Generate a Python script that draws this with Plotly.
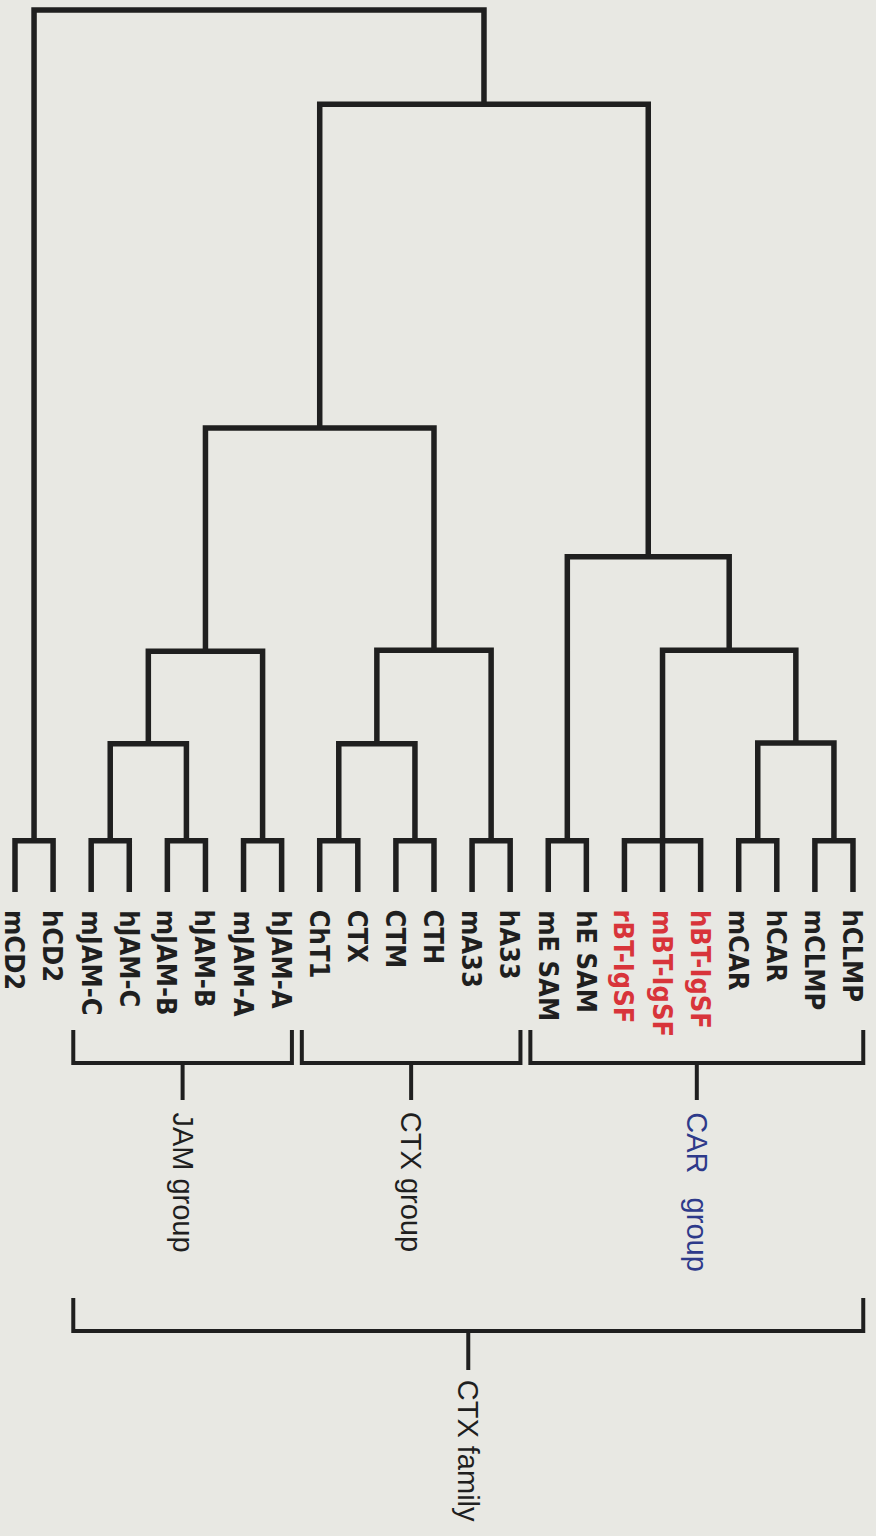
import plotly.graph_objects as go

# ---------------- data ----------------
leaves = ["mCD2", "hCD2", "mJAM-C", "hJAM-C", "mJAM-B", "hJAM-B", "mJAM-A", "hJAM-A",
          "ChT1", "CTX", "CTM", "CTH", "mA33", "hA33", "mE SAM", "hE SAM",
          "rBT-IgSF", "mBT-IgSF", "hBT-IgSF", "mCAR", "hCAR", "mCLMP", "hCLMP"]
highlight = ["rBT-IgSF", "mBT-IgSF", "hBT-IgSF"]

merge_ids = ["p_cd2", "p_jamc", "p_jamb", "p_jama", "p_ctx", "p_ctm", "p_a33", "p_esam",
             "p_bt", "p_car", "p_clmp",
             "jam_cb", "jam", "ctx_sub", "ctx", "car_clmp", "car_bt", "car",
             "jam_ctx", "family", "root"]
merge_children = [
    ["mCD2", "hCD2"], ["mJAM-C", "hJAM-C"], ["mJAM-B", "hJAM-B"], ["mJAM-A", "hJAM-A"],
    ["ChT1", "CTX"], ["CTM", "CTH"], ["mA33", "hA33"], ["mE SAM", "hE SAM"],
    ["rBT-IgSF", "mBT-IgSF", "hBT-IgSF"], ["mCAR", "hCAR"], ["mCLMP", "hCLMP"],
    ["p_jamc", "p_jamb"], ["jam_cb", "p_jama"],
    ["p_ctx", "p_ctm"], ["ctx_sub", "p_a33"],
    ["p_car", "p_clmp"], ["p_bt", "car_clmp"], ["p_esam", "car_bt"],
    ["jam", "ctx"], ["jam_ctx", "car"], ["p_cd2", "family"],
]
merge_heights = [5.8, 5.8, 5.8, 5.8, 5.8, 5.8, 5.8, 5.8, 5.8, 5.8, 5.8,
                 16.8, 27.3, 16.8, 27.4, 16.9, 27.4, 38.0, 52.6, 89.3, 100.0]

group_names = ["JAM group", "CTX group", "CAR\u00a0\u00a0\u00a0group"]
group_first = ["mJAM-C", "ChT1", "mE SAM"]
group_last = ["hJAM-A", "hA33", "hCLMP"]
family_name = "CTX family"
family_first = "mJAM-C"
family_last = "hCLMP"

# ---------------- layout constants ----------------
W, H = 876, 1536
BG = "#e8e8e3"
INK = "#1f1f1f"
RED = "#d8343a"
BLUE = "#2e3a8a"
PX0, PXSTEP = 15.0, 38.09      # pixel x of first leaf, spacing
PY0, PYSCALE = 892.0, 8.82     # pixel y of distance 0, pixels per unit

def d_of(py):
    return (PY0 - py) / PYSCALE

xr = [(0 - PX0) / PXSTEP, (W - PX0) / PXSTEP]
yr = [d_of(H), d_of(0)]

pos = {name: float(i) for i, name in enumerate(leaves)}
hgt = {name: 0.0 for name in leaves}
for nid, ch, h in zip(merge_ids, merge_children, merge_heights):
    pos[nid] = sum(pos[c] for c in ch) / len(ch)
    hgt[nid] = h

fig = go.Figure()

xs, ys = [], []
for nid, ch, h in zip(merge_ids, merge_children, merge_heights):
    xc = [pos[c] for c in ch]
    hc = [hgt[c] for c in ch]
    first, last = 0, len(ch) - 1
    xs += [xc[first], xc[first], xc[last], xc[last], None]
    ys += [hc[first], h, h, hc[last], None]
    for k in range(1, len(ch) - 1):
        xs += [xc[k], xc[k], None]
        ys += [hc[k], h, None]

fig.add_trace(go.Scatter(x=xs, y=ys, mode="lines",
                         line=dict(color=INK, width=5.5), hoverinfo="skip",
                         showlegend=False))

# leaf labels
for i, name in enumerate(leaves):
    fig.add_annotation(x=i, y=d_of(908), xref="x", yref="y", text=name,
                       textangle=90, showarrow=False, xanchor="center", yanchor="top",
                       font=dict(family="Liberation Sans Narrow, Arial Narrow, DejaVu Sans Condensed, Liberation Sans, Arial",
                                 size=27, weight="bold",
                                 color=RED if name in highlight else INK))

def bracket(i0, i1, top, mid, stem, label, label_top, color):
    xl = pos[i0] - 0.47
    xrr = pos[i1] + 0.27
    xm = (xl + xrr) / 2
    fig.add_trace(go.Scatter(x=[xl, xl, xrr, xrr], y=[d_of(top), d_of(mid), d_of(mid), d_of(top)],
                             mode="lines", line=dict(color=INK, width=4), hoverinfo="skip",
                             showlegend=False))
    fig.add_trace(go.Scatter(x=[xm, xm], y=[d_of(mid), d_of(stem)],
                             mode="lines", line=dict(color=INK, width=4), hoverinfo="skip",
                             showlegend=False))
    fig.add_annotation(x=xm, y=d_of(label_top), xref="x", yref="y", text=label,
                       textangle=90, showarrow=False, xanchor="center", yanchor="top",
                       font=dict(family="Liberation Sans, Arial", size=29, color=color))

for name, a, b in zip(group_names, group_first, group_last):
    bracket(a, b, 1030, 1063, 1100, name, 1110, BLUE if name.startswith("CAR") else INK)
bracket(family_first, family_last, 1298, 1331, 1370, family_name, 1378, INK)

fig.update_layout(
    width=W, height=H, margin=dict(l=0, r=0, t=0, b=0),
    paper_bgcolor=BG, plot_bgcolor=BG,
    xaxis=dict(range=xr, visible=False, fixedrange=True),
    yaxis=dict(range=yr, visible=False, fixedrange=True),
)

fig.write_html("out.html", config={"displayModeBar": False},
               post_script="document.body.style.margin='0';document.body.style.overflow='hidden';")
